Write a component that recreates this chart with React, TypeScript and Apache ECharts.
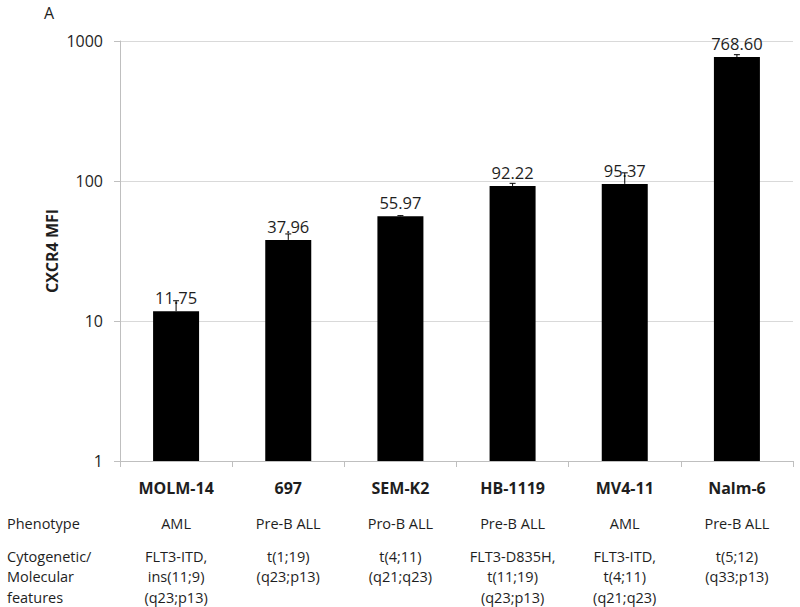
import React, { useEffect, useRef } from "react";
import * as echarts from "echarts";

const cellLines = ["MOLM-14", "697", "SEM-K2", "HB-1119", "MV4-11", "Nalm-6"];
const mfiValues = [11.75, 37.96, 55.97, 92.22, 95.37, 768.6];
const mfiErrors = [2.2, 3.9, 0.6, 4.0, 19.0, 30.0];
const phenotypes = ["AML", "Pre-B ALL", "Pro-B ALL", "Pre-B ALL", "AML", "Pre-B ALL"];
const features = [
  ["FLT3-ITD,", "ins(11;9)", "(q23;p13)"],
  ["t(1;19)", "(q23;p13)"],
  ["t(4;11)", "(q21;q23)"],
  ["FLT3-D835H,", "t(11;19)", "(q23;p13)"],
  ["FLT3-ITD,", "t(4;11)", "(q21;q23)"],
  ["t(5;12)", "(q33;p13)"],
];
const yTicks = [1, 10, 100, 1000];
const rowLabels = ["Phenotype", "Cytogenetic/", "Molecular", "features"];

const FONT = "'Open Sans', 'Noto Sans', sans-serif";
const TXT = "#1e1e1e";

export default function App() {
  const ref = useRef<HTMLDivElement>(null);
  useEffect(() => {
    if (!ref.current) return;
    const chart = echarts.init(ref.current, undefined, { renderer: "svg" });
    const rowYs = [523, 556, 576.5, 597];
    chart.setOption({
      animation: false,
      backgroundColor: "#ffffff",
      textStyle: { fontFamily: FONT },
      grid: { left: 120, right: 7, top: 41, bottom: 146, containLabel: false },
      xAxis: {
        type: "category",
        data: cellLines,
        axisLine: { show: true, lineStyle: { color: "#bfbfbf", width: 1 } },
        axisTick: { show: true, length: 6, lineStyle: { color: "#bfbfbf" } },
        axisLabel: {
          interval: 0,
          hideOverlap: false,
          margin: 15,
          formatter: (val: string, idx: number) => {
            const lines = [`{b|${val}}`, `{p|${phenotypes[idx]}}`];
            features[idx].forEach((f) => lines.push(`{c|${f}}`));
            return lines.join("\n");
          },
          rich: {
            b: { fontFamily: FONT, fontSize: 16, fontWeight: "bold", color: TXT, lineHeight: 24, align: "center" },
            p: { fontFamily: FONT, fontSize: 14.5, color: TXT, lineHeight: 46, align: "center" },
            c: { fontFamily: FONT, fontSize: 14.5, color: TXT, lineHeight: 20.5, align: "center" },
          },
        },
      },
      yAxis: {
        type: "log",
        logBase: 10,
        min: yTicks[0],
        max: yTicks[yTicks.length - 1],
        axisLine: { show: true, lineStyle: { color: "#bfbfbf", width: 1 } },
        axisTick: { show: true, length: 6, lineStyle: { color: "#bfbfbf" } },
        minorTick: { show: false },
        splitLine: { show: true, lineStyle: { color: "#d9d9d9", width: 1 } },
        axisLabel: {
          margin: 17,
          fontFamily: FONT,
          fontSize: 16,
          color: TXT,
          formatter: (v: number) => String(Math.round(v)),
        },
      },
      series: [
        {
          type: "bar",
          data: mfiValues,
          barWidth: 46,
          itemStyle: { color: "#000000" },
          label: {
            show: true,
            position: "top",
            distance: 5,
            fontFamily: FONT,
            fontSize: 16.5,
            color: TXT,
            formatter: (p: any) => Number(p.value).toFixed(2),
          },
          z: 2,
        },
        {
          type: "custom",
          data: mfiValues.map((v, i) => [i, v, mfiErrors[i]]),
          encode: { x: 0, y: 1 },
          z: 3,
          renderItem: (params: any, api: any) => {
            const i = api.value(0);
            const v = api.value(1);
            const e = api.value(2);
            const p0 = api.coord([i, v]);
            const p1 = api.coord([i, v + e]);
            const stroke = { stroke: "#000000", lineWidth: 1 };
            return {
              type: "group",
              children: [
                { type: "line", shape: { x1: p0[0], y1: p0[1], x2: p1[0], y2: p1[1] }, style: stroke },
                { type: "line", shape: { x1: p1[0] - 3, y1: p1[1], x2: p1[0] + 3, y2: p1[1] }, style: stroke },
              ],
            };
          },
        },
      ],
      graphic: [
        {
          type: "text",
          x: 44,
          y: 13,
          style: { text: "A", fontFamily: FONT, fontSize: 16, fill: TXT, verticalAlign: "middle" },
        },
        {
          type: "text",
          x: 52,
          y: 251,
          rotation: Math.PI / 2,
          style: {
            text: "CXCR4 MFI",
            fontFamily: FONT,
            fontSize: 16,
            fontWeight: "bold",
            fill: TXT,
            align: "center",
            verticalAlign: "middle",
          },
        },
        ...rowLabels.map((t, k) => ({
          type: "text",
          x: 7,
          y: rowYs[k],
          style: { text: t, fontFamily: FONT, fontSize: 14.5, fill: TXT, verticalAlign: "middle" },
        })),
      ],
    });
    return () => chart.dispose();
  }, []);
  return <div ref={ref} style={{ position: "fixed", left: 0, top: 0, width: 800, height: 607 }} />;
}
